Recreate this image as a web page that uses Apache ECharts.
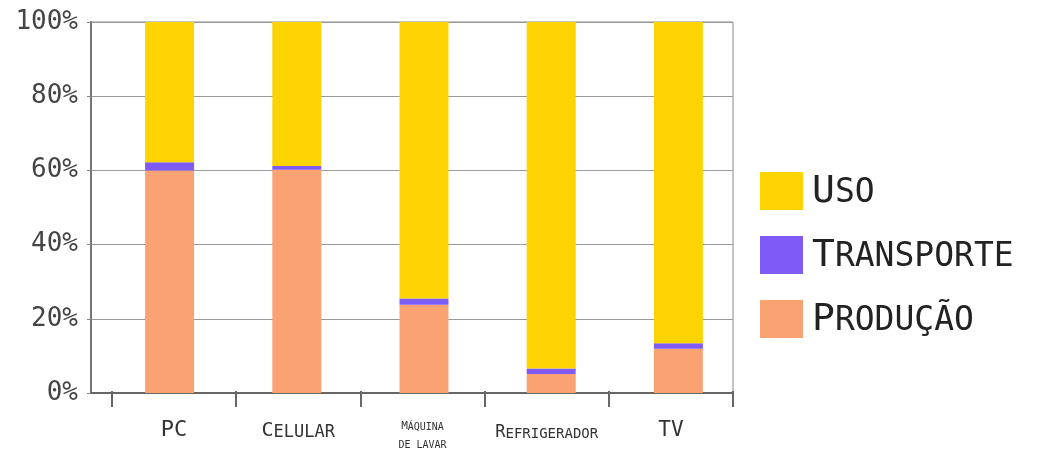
<!DOCTYPE html>
<html>
<head>
<meta charset="utf-8">
<script src="https://cdn.jsdelivr.net/npm/echarts@6/dist/echarts.min.js"></script>
<style>
  html, body { margin: 0; padding: 0; background: #fff; }
  #chart { width: 1042px; height: 450px; }
</style>
</head>
<body>
<div id="chart"></div>
<script>
const categories = ['PC', 'Celular', 'Máquina\nde lavar', 'Refrigerador', 'TV'];
const producao = [60.0, 60.2, 23.8, 5.1, 11.9];
const transporte = [2.2, 1.0, 1.7, 1.5, 1.5];
const uso = [37.8, 38.8, 74.5, 93.4, 86.6];
const seriesNames = ['Uso', 'Transporte', 'Produção'];

const MONO = '"DejaVu Sans Mono", "Liberation Mono", monospace';
const colors = { Uso: '#FDD400', Transporte: '#7E5BF6', 'Produção': '#FBA273' };

// letter sizes for the small-caps labels, [capital, small]
const labelSizes = [[22, 22], [20, 17], [11, 10], [17, 14], [21, 21]];

function smallCaps(str, big, small) {
  return str.split('\n').map(line => {
    let out = '';
    for (const ch of line) {
      if (ch === ' ') { out += '{' + small + '| }'; continue; }
      const up = ch.toUpperCase();
      out += '{' + (ch === up ? big : small) + '|' + up + '}';
    }
    return out;
  }).join('\n');
}

const rich = {};
labelSizes.forEach((s, i) => {
  rich['A' + i] = { fontFamily: MONO, fontSize: s[0], color: '#333', lineHeight: 18, verticalAlign: 'bottom' };
  rich['b' + i] = { fontFamily: MONO, fontSize: s[1], color: '#333', lineHeight: 18, verticalAlign: 'bottom' };
});
rich.LA = { fontFamily: MONO, fontSize: 38, color: '#222', lineHeight: 40, verticalAlign: 'bottom' };
rich.lb = { fontFamily: MONO, fontSize: 33, color: '#222', lineHeight: 40, verticalAlign: 'bottom', padding: [0, 0, 1, 0] };

const chart = echarts.init(document.getElementById('chart'));

const barAxis = { xAxisIndex: 1, yAxisIndex: 1, stack: 'total', type: 'bar', barWidth: '38.5%' };

chart.setOption({
  animation: false,
  backgroundColor: '#fff',
  grid: [
    { left: 91, right: 309, top: 22, bottom: 57, show: true, borderColor: '#888', borderWidth: 1, backgroundColor: 'transparent' },
    { left: 106, right: 300, top: 22, bottom: 57 },
    { left: 112, right: 309, top: 22, bottom: 57 }
  ],
  legend: {
    orient: 'vertical',
    left: 755,
    top: 167,
    itemWidth: 43,
    itemHeight: 38,
    itemGap: 25,
    icon: 'rect',
    data: seriesNames,
    formatter: name => smallCaps(name, 'LA', 'lb'),
    textStyle: { rich: rich, padding: [0, 0, 0, 4] }
  },
  xAxis: [
    {
      gridIndex: 0, type: 'category', data: categories,
      axisLine: { show: true, lineStyle: { color: '#666', width: 2 } },
      axisTick: { show: false }, axisLabel: { show: false }, splitLine: { show: false }
    },
    { gridIndex: 1, type: 'category', data: categories, show: false },
    {
      gridIndex: 2, type: 'category', data: categories,
      axisLine: { show: false },
      axisTick: { show: true, length: 16, lineStyle: { color: '#666', width: 2 } },
      axisLabel: {
        interval: 0,
        margin: 41,
        verticalAlign: 'middle',
        formatter: (value, idx) => smallCaps(value, 'A' + idx, 'b' + idx),
        rich: rich
      }
    }
  ],
  yAxis: [
    {
      gridIndex: 0, type: 'value', min: 0, max: 100, interval: 20,
      axisLine: { show: true, lineStyle: { color: '#777', width: 2 } },
      axisTick: { show: true, length: 4, lineStyle: { color: '#888' } },
      axisLabel: { formatter: '{value}%', fontFamily: MONO, fontSize: 26, color: '#444', margin: 13 },
      splitLine: { show: true, lineStyle: { color: '#999', width: 1 } }
    },
    { gridIndex: 1, type: 'value', min: 0, max: 100, show: false },
    { gridIndex: 2, type: 'value', min: 0, max: 100, show: false }
  ],
  series: [
    Object.assign({ name: 'Produção', data: producao, itemStyle: { color: colors['Produção'] } }, barAxis),
    Object.assign({ name: 'Transporte', data: transporte, itemStyle: { color: colors.Transporte } }, barAxis),
    Object.assign({ name: 'Uso', data: uso, itemStyle: { color: colors.Uso } }, barAxis)
  ]
});
</script>
</body>
</html>
